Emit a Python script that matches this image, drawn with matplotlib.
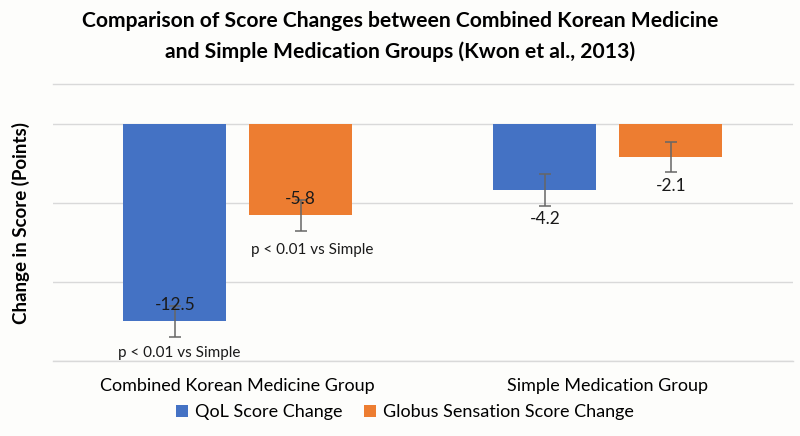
import matplotlib
matplotlib.use("Agg")
import matplotlib.pyplot as plt
import numpy as np

plt.rcParams["font.family"] = ["Lato", "DejaVu Sans"]

groups = ["Combined Korean Medicine Group", "Simple Medication Group"]
series = ["QoL Score Change", "Globus Sensation Score Change"]
qol = [-12.5, -4.2]
globus = [-5.8, -2.1]
qol_err = [1.0, 1.0]
globus_err = [1.0, 0.95]
qol_note = ["p < 0.01 vs Simple", ""]
globus_note = ["p < 0.01 vs Simple", ""]

BLUE, ORANGE = "#4472C4", "#ED7D31"
GRID = "#d9d9d9"
BG = "#fdfdfb"

fig = plt.figure(figsize=(8.0, 4.36), dpi=100, facecolor=BG)
ax = fig.add_axes([0.066, 0.172, 0.925, 0.635], facecolor=BG)

x = np.arange(len(groups))
w = 0.278
off = 0.17
b1 = ax.bar(x - off, qol, width=w, color=BLUE, zorder=2, label=series[0])
b2 = ax.bar(x + off, globus, width=w, color=ORANGE, zorder=2, label=series[1])
ax.errorbar(x - off, qol, yerr=qol_err, fmt="none", ecolor="#666666",
            elinewidth=1.1, capsize=4, capthick=1.1, zorder=3)
ax.errorbar(x + off, globus, yerr=globus_err, fmt="none", ecolor="#666666",
            elinewidth=1.1, capsize=4, capthick=1.1, zorder=3)

# value labels: inside end for the first group, below the bar end for the second
for i in range(len(groups)):
    dy = 12 if i == 0 else -21
    ax.annotate(f"{qol[i]:.1f}", (x[i] - off, qol[i]), xytext=(0, dy),
                textcoords="offset points", ha="center", va="center",
                fontsize=12.5, color="#1a1a1a", zorder=4)
    ax.annotate(f"{globus[i]:.1f}", (x[i] + off, globus[i]), xytext=(0, dy),
                textcoords="offset points", ha="center", va="center",
                fontsize=12.5, color="#1a1a1a", zorder=4)
    if qol_note[i]:
        ax.annotate(qol_note[i], (x[i] - off, qol[i]), xytext=(3, -23),
                    textcoords="offset points", ha="center", va="center",
                    fontsize=11, color="#1a1a1a")
    if globus_note[i]:
        ax.annotate(globus_note[i], (x[i] + off, globus[i]), xytext=(8, -25),
                    textcoords="offset points", ha="center", va="center",
                    fontsize=11, color="#1a1a1a")

ax.set_xlim(-0.5, 1.5)
ax.set_ylim(-15, 2.5)
ax.set_yticks([-15, -10, -5, 0])
ax.set_yticklabels([])
ax.tick_params(axis="y", length=0)
ax.tick_params(axis="x", length=0, pad=12, labelsize=13)
ax.set_xticks(x)
ax.set_xticklabels(groups)
ax.grid(axis="y", color=GRID, lw=1.0, zorder=0)
for s in ["left", "right"]:
    ax.spines[s].set_visible(False)
for s in ["top", "bottom"]:
    ax.spines[s].set_color(GRID)
    ax.spines[s].set_linewidth(1.0)

ax.set_ylabel("Change in Score (Points)", fontsize=13.5, fontweight="bold", labelpad=13)

fig.suptitle("Comparison of Score Changes between Combined Korean Medicine\n"
             "and Simple Medication Groups (Kwon et al., 2013)",
             fontsize=15.2, fontweight="bold", y=0.975, linespacing=1.65)

fig.legend(handles=[b1, b2], labels=series, loc="center", bbox_to_anchor=(0.506, 0.055),
           ncol=2, frameon=False, fontsize=13, handlelength=0.65, handleheight=0.65,
           handletextpad=0.4, columnspacing=1.2)

fig.savefig("out.png", dpi=100, facecolor=BG)
